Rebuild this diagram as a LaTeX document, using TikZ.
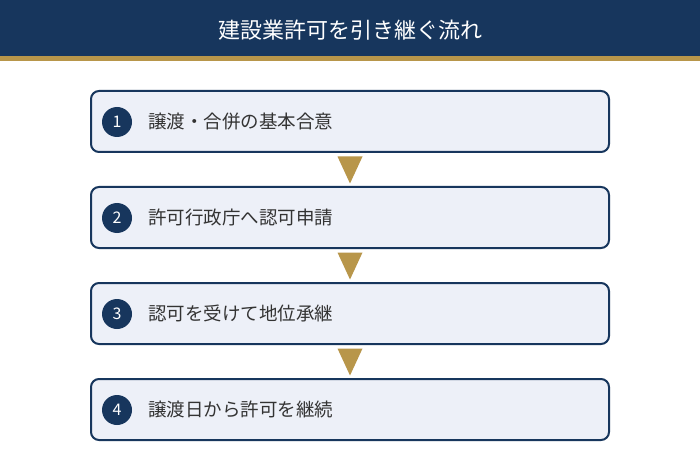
\documentclass[tikz,border=0pt]{standalone}
\usepackage{fontspec}
\newfontfamily\jp{Noto Sans CJK JP}
\definecolor{navy}{HTML}{17365D}
\definecolor{gold}{HTML}{B8964A}
\definecolor{boxfill}{HTML}{EDF0F8}
\definecolor{txt}{HTML}{333333}
\begin{document}
\begin{tikzpicture}[x=1pt,y=-1pt,
  stepbox/.style={draw=navy,line width=2pt,fill=boxfill,rounded corners=8pt,minimum width=518pt,minimum height=61pt,inner sep=0pt},
  numdot/.style={circle,fill=navy,minimum size=30pt,inner sep=0pt,text=white,font=\jp\fontsize{16pt}{16pt}\selectfont},
  steptext/.style={anchor=west,text=txt,font=\jp\fontsize{18.5pt}{18.5pt}\selectfont,inner sep=0pt},
  tri/.style={fill=gold}
]
\useasboundingbox (0,0) rectangle (700,470);
\fill[white] (0,0) rectangle (700,470);
\fill[navy] (0,0) rectangle (700,56);
\fill[gold] (0,56) rectangle (700,61);
\node[text=white,font=\jp\fontsize{22pt}{22pt}\selectfont] (title) at (350,30) {建設業許可を引き継ぐ流れ};
\foreach \i/\y/\t in {1/121.5/譲渡・合併の基本合意,2/217.5/許可行政庁へ認可申請,3/313.5/認可を受けて地位承継,4/409.5/譲渡日から許可を継続}{
  \node[stepbox] (b\i) at (350,\y) {};
  \node[numdot] (n\i) at (117,\y+0.5) {\i};
  \node[steptext] (t\i) at (148,\y) {\t};
}
\foreach \a/\b in {1/2,2/3,3/4}{
  \path (b\a.south) -- (b\b.north) coordinate[pos=0.5] (m\a);
  \fill[tri] ([xshift=-12.5pt,yshift=13pt]m\a) -- ([xshift=12.5pt,yshift=13pt]m\a) -- ([yshift=-14pt]m\a) -- cycle;
}
\end{tikzpicture}
\end{document}
